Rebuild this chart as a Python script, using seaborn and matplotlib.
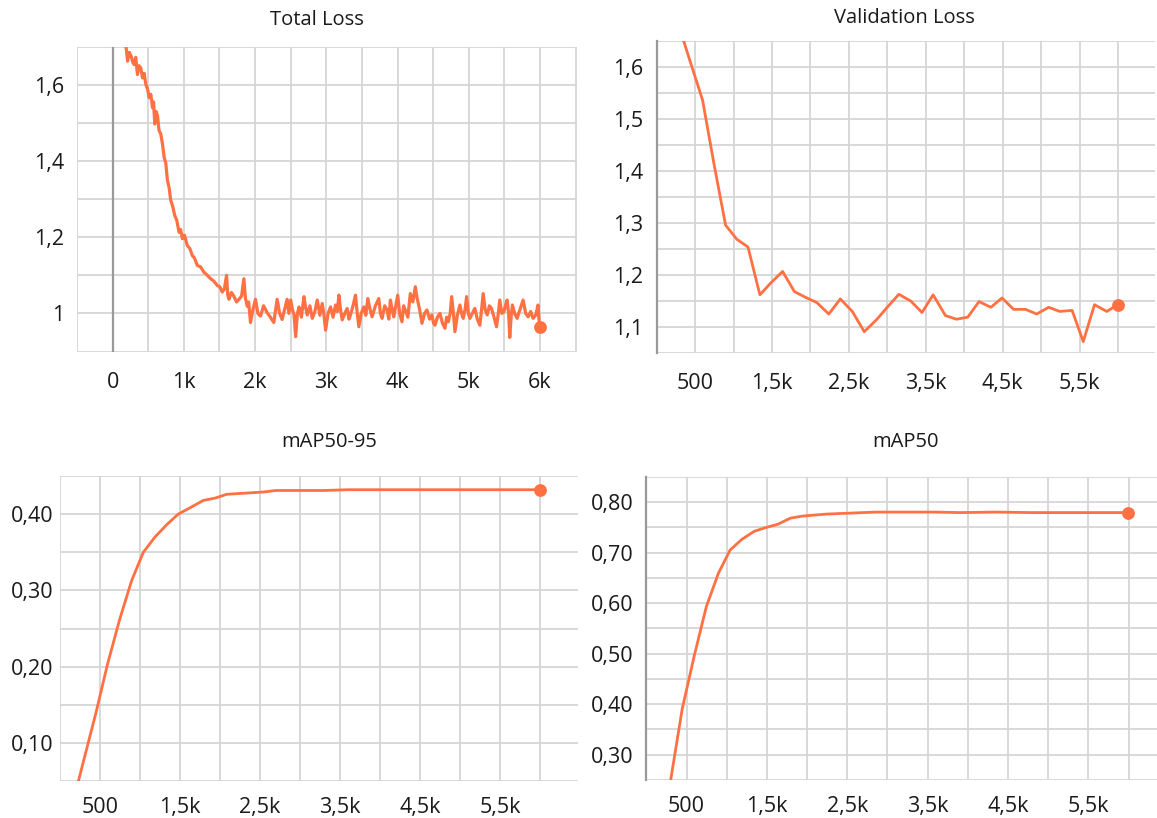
import matplotlib
matplotlib.use("Agg")
import matplotlib.pyplot as plt
import seaborn as sns
import pandas as pd
from matplotlib.ticker import FixedLocator

# ---------------- data ----------------
total_steps = [170, 195, 210, 235, 260, 282, 303, 325, 349, 372, 396, 420, 443, 466, 490, 513, 537,
               560, 575, 592, 610, 630, 652, 676, 700, 723, 746, 770, 793, 816, 845, 872, 900, 933,
               955, 980, 1010, 1049, 1085, 1119, 1150, 1189, 1235, 1283, 1330, 1376, 1420, 1470,
               1505, 1540, 1570, 1600, 1615, 1633, 1668, 1703, 1740, 1773, 1810, 1843, 1865, 1890,
               1910, 1936, 1970, 2006, 2040, 2076, 2120, 2170, 2215, 2263, 2290, 2310, 2345, 2380,
               2415, 2450, 2475, 2500, 2525, 2547, 2570, 2595, 2617, 2650, 2687, 2710, 2733, 2770,
               2803, 2840, 2873, 2910, 2943, 2965, 2990, 3025, 3060, 3095, 3130, 3155, 3177, 3200,
               3223, 3260, 3293, 3318, 3340, 3375, 3410, 3435, 3457, 3490, 3527, 3555, 3583, 3615,
               3643, 3690, 3737, 3760, 3783, 3820, 3853, 3878, 3900, 3925, 3947, 3975, 4003, 4030,
               4063, 4085, 4110, 4145, 4180, 4215, 4250, 4275, 4297, 4320, 4343, 4380, 4413, 4450,
               4483, 4505, 4526, 4560, 4596, 4630, 4666, 4690, 4713, 4740, 4760, 4785, 4806, 4840,
               4876, 4900, 4923, 4948, 4970, 4995, 5016, 5050, 5086, 5120, 5156, 5180, 5203, 5230,
               5259, 5290, 5320, 5355, 5390, 5415, 5436, 5465, 5492, 5515, 5539, 5560, 5576, 5595,
               5613, 5645, 5679, 5720, 5763, 5800, 5833, 5870, 5903, 5940, 5973, 5988, 6000]
total_loss = [1.72, 1.69, 1.662, 1.685, 1.675, 1.66, 1.653, 1.672, 1.627, 1.650, 1.644, 1.618,
              1.630, 1.601, 1.590, 1.566, 1.575, 1.540, 1.555, 1.497, 1.530, 1.519, 1.480, 1.471,
              1.445, 1.410, 1.395, 1.349, 1.330, 1.297, 1.280, 1.257, 1.245, 1.213, 1.220, 1.196,
              1.205, 1.178, 1.170, 1.152, 1.145, 1.126, 1.122, 1.108, 1.100, 1.091, 1.085, 1.073,
              1.070, 1.056, 1.065, 1.100, 1.050, 1.037, 1.055, 1.045, 1.030, 1.037, 1.045, 1.091,
              1.040, 1.019, 1.030, 0.976, 1.010, 1.037, 1.000, 0.993, 1.020, 1.002, 0.990, 0.976,
              1.010, 1.037, 1.000, 0.984, 1.010, 1.037, 1.000, 1.035, 1.010, 0.996, 0.939, 1.000,
              1.017, 0.990, 1.044, 1.015, 0.996, 1.020, 0.987, 1.005, 1.035, 0.995, 1.026, 1.000,
              0.956, 1.000, 1.017, 0.990, 1.022, 1.005, 1.048, 1.010, 0.983, 1.000, 1.013, 0.985,
              0.996, 1.020, 1.048, 1.000, 0.965, 1.000, 1.017, 0.995, 1.039, 1.010, 0.991, 1.020,
              1.039, 1.000, 0.987, 1.020, 1.009, 0.985, 1.035, 1.010, 0.991, 1.020, 1.048, 1.000,
              0.978, 1.020, 1.009, 0.990, 1.052, 1.030, 1.070, 1.040, 1.022, 1.000, 0.974, 1.000,
              1.009, 0.985, 0.996, 0.975, 0.969, 0.990, 1.000, 0.975, 0.961, 0.990, 0.978, 1.000,
              1.044, 1.000, 0.952, 0.995, 1.022, 1.000, 0.987, 1.010, 1.044, 1.000, 0.987, 1.000,
              1.013, 0.985, 0.969, 1.010, 1.052, 1.010, 0.996, 1.020, 1.013, 0.990, 0.965, 1.000,
              1.035, 1.000, 1.004, 1.020, 1.035, 1.000, 0.937, 0.990, 1.022, 1.000, 0.987, 1.010,
              1.035, 1.000, 0.991, 1.005, 0.987, 0.995, 1.022, 0.980, 0.965]

val_steps = [296, 446, 596, 746, 896, 1042, 1187, 1342, 1478, 1637, 1792, 1938, 2083, 2238, 2388,
             2544, 2699, 2858, 3004, 3149, 3304, 3450, 3595, 3755, 3900, 4045, 4191, 4346, 4491,
             4641, 4797, 4942, 5097, 5242, 5402, 5547, 5693, 5853, 5998]
val_loss = [1.675, 1.605, 1.536, 1.412, 1.295, 1.268, 1.253, 1.161, 1.183, 1.206, 1.167, 1.156,
            1.146, 1.124, 1.153, 1.129, 1.090, 1.113, 1.138, 1.162, 1.149, 1.127, 1.161, 1.121,
            1.114, 1.118, 1.148, 1.137, 1.155, 1.133, 1.133, 1.124, 1.137, 1.129, 1.131, 1.071,
            1.142, 1.129, 1.142]

map_steps = [146, 296, 446, 596, 746, 896, 1042, 1187, 1342, 1478, 1637, 1792, 1938, 2083, 2238,
             2388, 2544, 2699, 2858, 3004, 3304, 3595, 3900, 4346, 4797, 5242, 5693, 5998]
map5095 = [0.015, 0.077, 0.138, 0.204, 0.262, 0.313, 0.350, 0.370, 0.387, 0.400, 0.409, 0.418,
           0.421, 0.426, 0.427, 0.428, 0.429, 0.431, 0.431, 0.431, 0.431, 0.432, 0.432, 0.432,
           0.432, 0.432, 0.432, 0.432]
map50 = [0.10, 0.244, 0.391, 0.496, 0.593, 0.659, 0.705, 0.726, 0.742, 0.749, 0.756, 0.768,
         0.772, 0.774, 0.776, 0.777, 0.778, 0.779, 0.780, 0.780, 0.780, 0.780, 0.779, 0.780,
         0.779, 0.779, 0.779, 0.779]

titles = ["Total Loss", "Validation Loss", "mAP50-95", "mAP50"]

x_ticks_a = [0, 1000, 2000, 3000, 4000, 5000, 6000]
x_labels_a = ["0", "1k", "2k", "3k", "4k", "5k", "6k"]
x_ticks_b = [500, 1500, 2500, 3500, 4500, 5500]
x_labels_b = ["500", "1,5k", "2,5k", "3,5k", "4,5k", "5,5k"]

y_ticks_total = [1.0, 1.2, 1.4, 1.6]
y_labels_total = ["1", "1,2", "1,4", "1,6"]
y_ticks_val = [1.1, 1.2, 1.3, 1.4, 1.5, 1.6]
y_labels_val = ["1,1", "1,2", "1,3", "1,4", "1,5", "1,6"]
y_ticks_m95 = [0.10, 0.20, 0.30, 0.40]
y_labels_m95 = ["0,10", "0,20", "0,30", "0,40"]
y_ticks_m50 = [0.30, 0.40, 0.50, 0.60, 0.70, 0.80]
y_labels_m50 = ["0,30", "0,40", "0,50", "0,60", "0,70", "0,80"]

# ---------------- style ----------------
sns.set_theme(style="white")
plt.rcParams["font.family"] = ["Open Sans", "DejaVu Sans"]

W, H = 1157, 818
LINE = "#ff7043"
GRID = "#d6d6d6"
DARK = "#999999"
TXT = "#1a1a1a"
TICK_FS = 15.5

fig = plt.figure(figsize=(W / 100, H / 100), dpi=100)
fig.patch.set_facecolor("white")


def rect(l, t, r, b):
    return [l / W, 1 - b / H, (r - l) / W, (b - t) / H]


def make_axes(r, xlim, ylim, xmaj, xlab, ymaj, ylab, xminor, yminor, left_ticks=True,
              left_dark=False, xpad=8.0):
    ax = fig.add_axes(rect(*r))
    ax.set_xlim(*xlim)
    ax.set_ylim(*ylim)
    ax.xaxis.set_major_locator(FixedLocator(xmaj))
    ax.set_xticklabels(xlab)
    ax.yaxis.set_major_locator(FixedLocator(ymaj))
    ax.set_yticklabels(ylab)
    ax.xaxis.set_minor_locator(FixedLocator(xminor))
    ax.yaxis.set_minor_locator(FixedLocator(yminor))
    ax.grid(True, which="both", color=GRID, lw=1.3, zorder=0)
    ax.set_axisbelow(True)
    for s in ax.spines.values():
        s.set_visible(False)
    if left_dark:
        ax.spines["left"].set_visible(True)
        ax.spines["left"].set_color(DARK)
        ax.spines["left"].set_linewidth(1.6)
    ax.tick_params(axis="x", which="both", length=7, width=1.3, color=GRID,
                   labelsize=TICK_FS, labelcolor=TXT, pad=xpad)
    ax.tick_params(axis="y", which="both", length=7 if left_ticks else 0, width=1.3,
                   color=GRID, labelsize=TICK_FS, labelcolor=TXT,
                   pad=2.5 if left_ticks else 5)
    return ax


def draw(ax, xs, ys, lw=2.0):
    df = pd.DataFrame({"step": xs, "value": ys})
    sns.lineplot(data=df, x="step", y="value", ax=ax, color=LINE, lw=lw,
                 estimator=None, sort=False, zorder=3)
    last = df.iloc[[-1]]
    sns.scatterplot(data=last, x="step", y="value", ax=ax, color=LINE, s=85,
                    edgecolor=LINE, linewidth=0, zorder=4, clip_on=False)
    ax.set_xlabel("")
    ax.set_ylabel("")


grid500 = list(range(-500, 6600, 500))
grid500p = list(range(0, 6600, 500))

# Panel 1: Total Loss
ax1 = make_axes((77, 46.7, 577, 351.5), (-500, 6520), (0.9, 1.7), x_ticks_a, x_labels_a,
                y_ticks_total, y_labels_total, grid500,
                [0.9, 1.0, 1.1, 1.2, 1.3, 1.4, 1.5, 1.6, 1.7])
ax1.axvline(0, color=DARK, lw=1.6, zorder=1)
draw(ax1, total_steps, total_loss, lw=2.3)

# Panel 2: Validation Loss
ax2 = make_axes((656.7, 40.7, 1155, 352.5), (0, 6480), (1.05, 1.65), x_ticks_b, x_labels_b,
                y_ticks_val, y_labels_val, grid500p,
                [1.05, 1.1, 1.15, 1.2, 1.25, 1.3, 1.35, 1.4, 1.45, 1.5, 1.55, 1.6, 1.65],
                left_dark=True)
draw(ax2, val_steps, val_loss)

# Panel 3: mAP50-95
ax3 = make_axes((60, 476, 578, 781), (0, 6475), (0.05, 0.45), x_ticks_b, x_labels_b,
                y_ticks_m95, y_labels_m95, grid500p,
                [0.05, 0.10, 0.15, 0.20, 0.25, 0.30, 0.35, 0.40, 0.45], left_ticks=False,
                xpad=4.5)
draw(ax3, map_steps, map5095)

# Panel 4: mAP50
ax4 = make_axes((646.4, 476.7, 1157, 780), (0, 6354), (0.25, 0.85), x_ticks_b, x_labels_b,
                y_ticks_m50, y_labels_m50, grid500p,
                [0.25, 0.30, 0.35, 0.40, 0.45, 0.50, 0.55, 0.60, 0.65, 0.70, 0.75, 0.80, 0.85],
                left_dark=True, xpad=4.5)
draw(ax4, map_steps, map50)

# Titles
for (cx, cy), t in zip([(317, 20), (904, 18.4), (329, 442.5), (905, 442.5)], titles):
    fig.text(cx / W, 1 - cy / H, t, ha="center", va="center", fontsize=14.5, color=TXT)

fig.savefig("out.png", dpi=100, facecolor="white")
